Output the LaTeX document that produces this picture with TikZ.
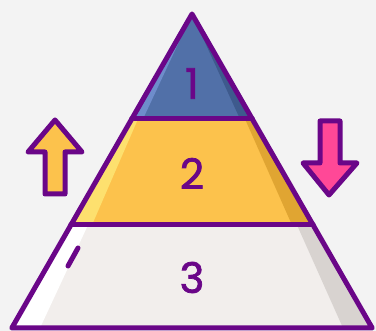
\documentclass[tikz,border=0pt]{standalone}
\usepackage{fontspec}
\newfontfamily\chiffre{Poppins}[FakeBold=1.8]
\definecolor{fond}{HTML}{F3F3F3}
\definecolor{violet}{RGB}{106,6,136}
\definecolor{bleu}{HTML}{5170A8}
\definecolor{bleuclair}{HTML}{6E8DCB}
\definecolor{bleufonce}{HTML}{3E5A8D}
\definecolor{jaune}{HTML}{FCC24C}
\definecolor{jauneclair}{HTML}{FDE06E}
\definecolor{jaunefonce}{HTML}{E0A532}
\definecolor{gris}{HTML}{F2EEEC}
\definecolor{grisfonce}{HTML}{D8D3D0}
\definecolor{rose}{HTML}{FF4897}
\tikzset{
  trait/.style={draw=violet, line width=5pt, line join=round, line cap=round},
  niveau/.style={font=\chiffre\fontsize{42}{42}\selectfont, text=violet, inner sep=0pt}
}
\begin{document}
\begin{tikzpicture}[x=1pt, y=-1pt]
    % Fond
    \fill[fond] (0,0) rectangle (376,331);
    \useasboundingbox (0,0) rectangle (376,331);

    % Couche 1
    \fill[bleu] (192,14) -- (131.7,119) -- (252.3,119) -- cycle;
    \fill[bleuclair] (192,14) -- (131.7,119) -- (143,119) -- cycle;
    \fill[bleufonce] (192,14) -- (252.3,119) -- (240,119) -- cycle;

    % Couche 2
    \fill[jaune] (131.7,119) -- (70.9,225) -- (313.1,225) -- (252.3,119) -- cycle;
    \fill[jauneclair] (131.7,119) -- (70.9,225) -- (92,225) -- (138,119) -- cycle;
    \fill[jaunefonce] (252.3,119) -- (313.1,225) -- (292,225) -- (245,119) -- cycle;

    % Couche 3
    \fill[gris] (70.9,225) -- (11.8,328) -- (372.2,328) -- (313.1,225) -- cycle;
    \fill[white] (70.9,225) -- (11.8,328) -- (40,328) -- (88,225) -- cycle;
    \fill[grisfonce] (313.1,225) -- (372.2,328) -- (343,328) -- (297,225) -- cycle;

    % Contours
    \draw[trait] (192,14) -- (11.8,328) -- (372.2,328) -- cycle;
    \draw[trait] (131.7,119) -- (252.3,119);
    \draw[trait] (70.9,225) -- (313.1,225);
    \draw[trait] (78,248) -- (68,266);

    % Chiffres
    \node[niveau] (un) at (192,83.5) {1};
    \node[niveau] (deux) at (192,173.5) {2};
    \node[niveau] (trois) at (192,277.5) {3};

    % Fleche haut
    \draw[trait, fill=jaune] (55,120) -- (82,152) -- (65,152) -- (65,194)
        -- (45,194) -- (45,152) -- (28,152) -- cycle;

    % Fleche bas
    \draw[trait, fill=rose] (329,195) -- (357,163) -- (340,163) -- (340,121)
        -- (320,121) -- (320,163) -- (303,163) -- cycle;
\end{tikzpicture}
\end{document}
